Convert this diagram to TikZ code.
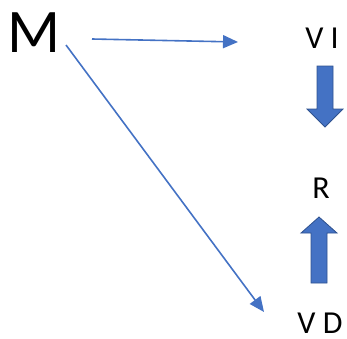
\documentclass[tikz,border=0pt]{standalone}
\usepackage{fontspec}
\setmainfont{Carlito}
\usetikzlibrary{arrows.meta}
\definecolor{ablue}{HTML}{4472C4}
\definecolor{dblue}{HTML}{2F528F}
\tikzset{
  lbl/.style={inner sep=0pt, font=\fontsize{32}{34}\selectfont},
  conn/.style={draw=ablue, line width=1.6pt, -{Triangle[length=15pt,width=13pt]}},
  blockarrow/.style={fill=ablue, draw=dblue, line width=0.8pt}
}
\begin{document}
\begin{tikzpicture}[x=1pt,y=-1pt]
\useasboundingbox (0,0) rectangle (347,338);
\node[inner sep=0pt, font=\fontsize{62}{64}\selectfont, anchor=base] (M) at (34,52) {M};
\node[lbl, anchor=base] (VI) at (322,48) {V I};
\node[lbl, anchor=base] (R) at (321,198) {R};
\node[lbl, anchor=base] (VD) at (320,333) {V D};
\coordinate (m1) at (92,39);
\coordinate (m2) at (66,45);
\coordinate (t1) at (238,42);
\coordinate (t2) at (264,312);
\draw[conn] (m1) -- (t1);
\draw[conn] (m2) -- (t2);
% down block arrow
\draw[blockarrow] (317,66) -- (333,66) -- (333,109) -- (343,109) -- (325,127) -- (307,109) -- (317,109) -- cycle;
% up block arrow
\draw[blockarrow] (311,283) -- (327,283) -- (327,233) -- (337,233) -- (319,217) -- (301,233) -- (311,233) -- cycle;
\end{tikzpicture}
\end{document}
